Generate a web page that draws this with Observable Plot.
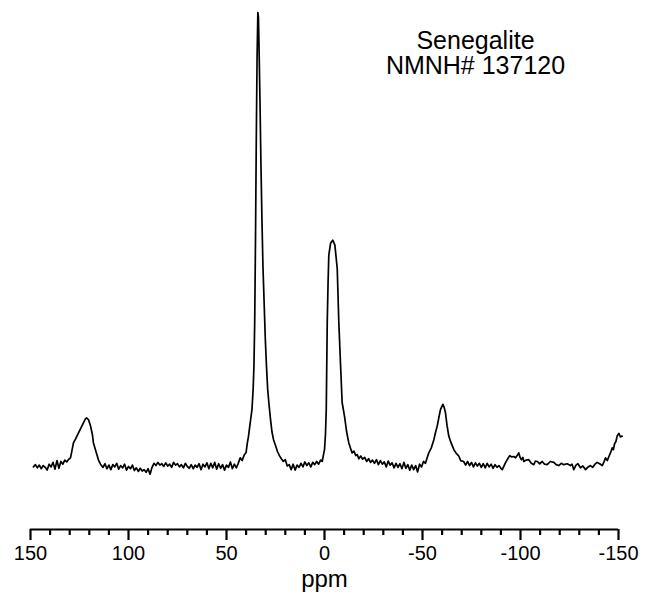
<!DOCTYPE html>
<html><head><meta charset="utf-8">
<script src="https://cdn.jsdelivr.net/npm/d3@7"></script>
<script src="https://cdn.jsdelivr.net/npm/@observablehq/plot@0.6"></script>
<style>body{margin:0;background:#fff}</style>
</head><body><div id="chart"></div>
<script>
// chemical shift (ppm) and relative intensity
const ppm = [
  148.5,147.5,146.5,145.5,144.5,143.5,142.5,141.5,140.5,139.5,138.5,137.5,136.5,135.5,134.5,133.5,132.5,131.5,130.5,
  129.6,128.8,128.1,127.0,125.5,124.5,123.0,122.0,121.4,120.4,119.4,118.4,117.9,116.8,115.3,114.3,
  113,112,111,110,109,108,107,106,105,104,103,102,101,100,99,98,97,96,95,94,93,92,91,90,89,88,87,86,85,84,83,82,81,80,
  79,78,77,76,75,74,73,72,71,70,69,68,67,66,65,64,63,62,61,60,59,58,57,56,55,54,53,52,51,50,49,48,47,46,45,
  44,43,42,41,40,39.4,38.8,38.2,37.6,37.0,36.4,36.0,35.6,35.2,34.8,34.4,34.0,33.7,33.3,32.9,32.4,31.9,31.4,30.8,30.2,
  29.6,29.0,28.4,27.6,26.8,26.0,25.0,24.0,23.0,22.0,21.0,20.0,19.0,18.0,
  17,16,15,14,13,12,11,10,9,8,7,6,5,4,3,2,1.2,0.5,0,
  -0.5,-0.9,-1.4,-1.8,-2.2,-3.1,-4.2,-5.3,-6.5,-7.3,-8.2,-9.0,-10.2,-11.3,-12.4,-13.2,-14.1,-15,-16,-16.7,
  -17.5,-18.5,-19.5,-20.5,-21.5,-22.5,-23.5,-24.5,-25.5,-26.5,-27.5,-28.5,-29.5,-30.5,-31.5,-32.5,-33.5,-34.5,
  -35.5,-36.5,-37.5,-38.5,-39.5,-40.5,-41.5,-42.5,-43.5,-44.5,-45.5,-46.5,-47.5,-48.5,-49.5,-50.5,-51.5,-52.5,
  -53.2,-54.5,-55.8,-56.7,-57.5,-58.4,-59.2,-60.4,-61.0,-61.7,-62.5,-63.4,-64.5,-66,-67.2,-68.5,-69.5,-71,
  -72,-73,-74,-75,-76,-77,-78,-79,-80,-81,-82,-83,-84,-85,-86,-87,-88,-89,-90,-90.7,
  -92.3,-93.5,-94.5,-95.5,-96.6,-97.5,-98.3,-99.1,-99.8,-100.4,-101.2,-101.7,-102.8,-104.2,-105.5,-106.8,
  -107.6,-108.5,-109.8,-111.1,-112.3,-113.6,-115.2,-117.0,-118.2,-119.5,-120.8,-122.1,-123.8,-125.5,-126.3,
  -127.2,-128.3,-129.3,-130.6,-131.8,-133.2,-134.5,-135.7,-136.8,-138.0,-139.1,-140.4,-141.7,-142.6,-143.4,
  -144.3,-145.1,-146.0,-146.8,-147.4,-148.0,-148.7,-149.3,-150.2,-151.0,-151.9
];
const intensity = [
  -0.2,0.3,-0.4,0.2,-0.6,0.1,-0.3,-0.9,0.4,-0.2,0.8,-0.7,1.2,-0.5,1.0,0.4,1.3,0.9,1.5,
  1.8,3.5,5.1,6.0,7.3,8.2,9.5,10.4,10.6,10.2,8.9,6.9,5.1,3.5,1.3,0.4,
  -0.3,0.5,-0.6,0.2,-0.8,0.3,-0.2,0.6,-0.7,0.1,-0.4,0.4,-0.9,-0.1,-0.6,0.2,-1.0,-0.4,-1.2,-0.5,-1.1,-0.8,-1.4,-0.6,-1.8,-0.3,0.6,0.1,0.8,0.2,0.5,-0.1,0.7,0.0,
  0.4,-0.3,0.8,0.2,0.5,-0.2,0.3,-0.4,0.6,-0.1,-0.5,0.3,-0.6,0.2,-0.3,0.5,-0.8,0.4,-0.2,0.7,-0.6,0.6,-0.4,0.8,-0.7,0.5,-0.5,0.3,-0.9,0.2,-0.3,0.9,-0.6,0.4,-0.4,
  0.6,1.8,1.2,2.4,3.0,5.0,6.5,8.5,10.5,12.5,17,22,32,50,72,90,100,99,90,80,66,54,44,36,28,
  22,17,14,10.5,7.5,5.8,4.5,3.2,2.3,1.6,1.0,1.4,0.0,0.3,
  -0.8,0.4,-0.9,0.2,-0.3,0.6,-0.2,0.9,0.1,0.7,-0.2,0.8,0.3,1.0,0.4,1.3,1.0,2.5,3.6,
  7,12.5,31.7,40,46.5,49.1,49.8,48.7,43.5,31.7,22.2,14,11,7.5,5.1,4.0,2.9,3.3,2.3,2.5,
  1.6,2.2,1.5,1.9,1.0,1.6,0.8,1.3,0.6,1.4,0.3,1.2,0.4,0.9,-0.2,1.1,0.2,0.7,
  -0.4,0.6,-0.3,0.5,-0.6,0.8,-0.5,0.3,-0.9,0.2,-0.8,0.1,-1.3,0.4,-0.2,1.0,0.6,2.0,
  2.9,4.0,5.8,7.5,8.8,10.8,12.5,13.6,13.0,11.8,9.0,6.6,5.2,3.6,2.8,2.2,1.2,1.0,
  0.2,1.0,0.1,0.8,-0.2,0.7,0.0,0.6,-0.3,0.5,-0.4,0.6,-0.2,0.4,-0.5,0.3,-0.3,0.1,-0.5,-0.8,
  0.7,1.6,2.3,2.0,2.1,1.8,2.3,2.9,1.9,1.4,1.9,1.0,1.3,1.4,0.6,0.3,
  1.1,1.0,0.5,1.0,0.4,0.3,1.0,0.8,0.3,0.1,0.6,0.3,0.5,0.1,0.4,
  -0.8,0.2,0.5,-0.4,0.0,-0.8,-0.2,0.1,-0.3,0.4,0.8,0.5,0.1,0.9,1.8,
  1.2,2.1,3.0,4.0,3.6,4.9,5.4,6.6,7.2,6.4,6.6
];
const majorTicks = [150, 100, 50, 0, -50, -100, -150];
const minorTicks = [140, 130, 120, 110, 90, 80, 70, 60, 40, 30, 20, 10, -10, -20, -30, -40, -60, -70, -80, -90, -110, -120, -130, -140];
const titleLines = ["Senegalite", "NMNH# 137120"];
const axisLabel = "ppm";

const data = ppm.map((p, i) => ({ppm: p, intensity: intensity[i]}));
const yMin = -14;

const chart = Plot.plot({
  width: 646, height: 599,
  marginLeft: 30, marginRight: 28, marginTop: 12, marginBottom: 70,
  style: {fontFamily: "'Liberation Sans', Arial, sans-serif", fontSize: "19px", color: "#000", background: "#fff"},
  x: {domain: [150, -150]},
  y: {domain: [yMin, 100], axis: null},
  marks: [
    Plot.ruleY([yMin], {stroke: "#000", strokeWidth: 2.2}),
    Plot.axisX({ticks: minorTicks, tickSize: 6, tickFormat: () => "", strokeWidth: 2.2, label: null}),
    Plot.axisX({ticks: majorTicks, tickSize: 11, tickPadding: 5, tickFormat: d => String(d), strokeWidth: 2.2, label: null, fontSize: 20}),
    Plot.line(data, {x: "ppm", y: "intensity", stroke: "#000", strokeWidth: 1.7}),
    Plot.text([titleLines.join("\n")], {frameAnchor: "top", dx: 151, dy: 18, fontSize: 25, lineHeight: 1.02, lineAnchor: "top", fill: "#000"}),
    Plot.text([axisLabel], {frameAnchor: "bottom", dy: 57, fontSize: 24, fill: "#000"})
  ]
});
document.getElementById("chart").appendChild(chart);
</script>
</body></html>
